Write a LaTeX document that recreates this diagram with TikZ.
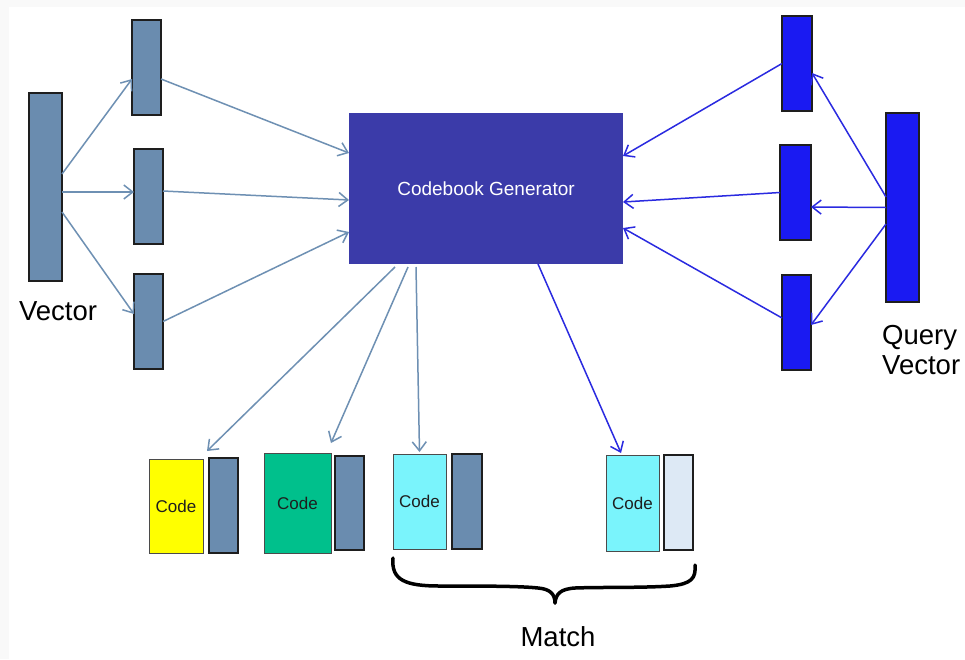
\documentclass[tikz,border=0pt]{standalone}
\usepackage{fontspec}
\setmainfont{Liberation Sans}
\usetikzlibrary{arrows.meta}
\definecolor{bggray}{HTML}{F9F9F9}
\definecolor{steel}{HTML}{6A8CAF}
\definecolor{steelarrow}{HTML}{6E90B3}
\definecolor{genblue}{HTML}{3B3BA9}
\definecolor{qblue}{HTML}{1A1AF2}
\definecolor{qarrow}{HTML}{2A2AE0}
\definecolor{codeyellow}{HTML}{FFFF00}
\definecolor{codegreen}{HTML}{00C08C}
\definecolor{codecyan}{HTML}{7AF4FC}
\definecolor{lightbar}{HTML}{DDE9F5}
\definecolor{inkdark}{HTML}{1E1E1E}
\tikzset{
  bar/.style={rectangle, inner sep=0pt, outer sep=0pt, draw=inkdark, line width=1.5pt},
  steelbar/.style={bar, fill=steel},
  qbar/.style={bar, fill=qblue},
  codebox/.style={rectangle, inner sep=0pt, outer sep=0pt, draw=inkdark!80, line width=1pt, font=\fontsize{17}{20}\selectfont, text=inkdark},
  sarrow/.style={draw=steelarrow, line width=1.5pt, -{Straight Barb[length=9pt,width=14pt,line width=1.5pt]}},
  qarrowstyle/.style={draw=qarrow, line width=1.5pt, -{Straight Barb[length=9pt,width=14pt,line width=1.5pt]}},
  lbl/.style={inner sep=0pt, text=black},
}
\begin{document}
\begin{tikzpicture}[x=1pt,y=-1pt]
\useasboundingbox (0,0) rectangle (965,659);
\fill[bggray] (0,0) rectangle (965,659);
\fill[white] (9,7) rectangle (965,659);

% left side
\node[steelbar, minimum width=33pt, minimum height=188pt] (vec) at (45.5,187) {};
\node[steelbar, minimum width=29pt, minimum height=95pt] (l1) at (146.5,67.5) {};
\node[steelbar, minimum width=29pt, minimum height=95pt] (l2) at (148.5,196.5) {};
\node[steelbar, minimum width=29pt, minimum height=95pt] (l3) at (148.5,321.5) {};
\node[lbl, font=\fontsize{27.5}{30}\selectfont] (veclbl) at (58,311) {Vector};

% generator
\node[rectangle, fill=genblue, inner sep=0pt, outer sep=0pt, minimum width=274pt, minimum height=151pt, text=white, font=\fontsize{19}{22}\selectfont] (gen) at (486,188.5) {Codebook Generator};

% right side
\node[qbar, minimum width=30pt, minimum height=95pt] (r1) at (797,63.5) {};
\node[qbar, minimum width=31pt, minimum height=95pt] (r2) at (795.5,192.5) {};
\node[qbar, minimum width=29pt, minimum height=95pt] (r3) at (796.5,322.5) {};
\node[qbar, minimum width=33pt, minimum height=189pt] (q) at (902.5,207.5) {};
\node[lbl, anchor=west, align=left, font=\fontsize{27.5}{30}\selectfont] (qlbl) at (882,350) {Query\\Vector};

% codes
\node[codebox, fill=codeyellow, minimum width=54pt, minimum height=94pt] (c1) at (176,506) {Code};
\node[steelbar, minimum width=29pt, minimum height=95pt] (d1) at (223.5,505.5) {};
\node[codebox, fill=codegreen, minimum width=67pt, minimum height=100pt] (c2) at (297.5,503) {Code};
\node[steelbar, minimum width=29pt, minimum height=94pt] (d2) at (349.5,503) {};
\node[codebox, fill=codecyan, minimum width=53pt, minimum height=95pt] (c3) at (419.5,501.5) {Code};
\node[steelbar, minimum width=30pt, minimum height=95pt] (d3) at (467,501.5) {};
\node[codebox, fill=codecyan, minimum width=53pt, minimum height=96pt] (c4) at (632.5,503) {Code};
\node[bar, fill=lightbar, minimum width=29pt, minimum height=95pt] (d4) at (678.5,502.5) {};

% left arrows
\draw[sarrow] ([yshift=13pt]vec.east) -- ([yshift=-11.5pt]l1.west);
\draw[sarrow] ([yshift=-5pt]vec.east) -- ([yshift=4.5pt]l2.west);
\draw[sarrow] ([yshift=-25pt]vec.east) -- ([yshift=7.5pt]l3.west);
\draw[sarrow] ([yshift=-11.5pt]l1.east) -- ([yshift=35.5pt]gen.west);
\draw[sarrow] ([yshift=5.5pt]l2.east) -- ([yshift=-11.5pt]gen.west);
\draw[sarrow] (l3.east) -- ([yshift=-43.5pt]gen.west);

% right arrows
\draw[qarrowstyle] (r1.west) -- ([yshift=32.5pt]gen.east);
\draw[qarrowstyle] (r2.west) -- ([yshift=-13.5pt]gen.east);
\draw[qarrowstyle] ([yshift=4.5pt]r3.west) -- ([yshift=-39.5pt]gen.east);
\draw[qarrowstyle] ([yshift=10.5pt]q.west) -- ([yshift=-9.5pt]r1.east);
\draw[qarrowstyle] (q.west) -- ([yshift=-14.5pt]r2.east);
\draw[qarrowstyle] ([yshift=-16.5pt]q.west) -- ([yshift=-2.5pt]r3.east);

% bottom arrows
\draw[sarrow] ([xshift=-91pt,yshift=-3pt]gen.south) -- ([xshift=31pt,yshift=8pt]c1.north);
\draw[sarrow] ([xshift=-78pt,yshift=-3pt]gen.south) -- ([xshift=33.5pt,yshift=10pt]c2.north);
\draw[sarrow] ([xshift=-70pt,yshift=-3pt]gen.south) -- ([yshift=2pt]c3.north);
\draw[qarrowstyle] ([xshift=52pt]gen.south) -- ([xshift=-11.5pt,yshift=2pt]c4.north);

% brace
\draw[line width=3.5pt, line cap=round, line join=round, black]
  (393,558) .. controls (391,580) and (405,586) .. (440,586)
  .. controls (480,586) and (520,586) .. (538,588)
  .. controls (550,589) and (555,594) .. (555,603);
\draw[line width=3.5pt, line cap=round, line join=round, black]
  (555,603) .. controls (556,594) and (560,589) .. (575,588)
  .. controls (600,587) and (640,588) .. (670,586)
  .. controls (692,584) and (696,578) .. (695,565);
\node[lbl, font=\fontsize{27.5}{30}\selectfont] (match) at (558,637) {Match};
\end{tikzpicture}
\end{document}
